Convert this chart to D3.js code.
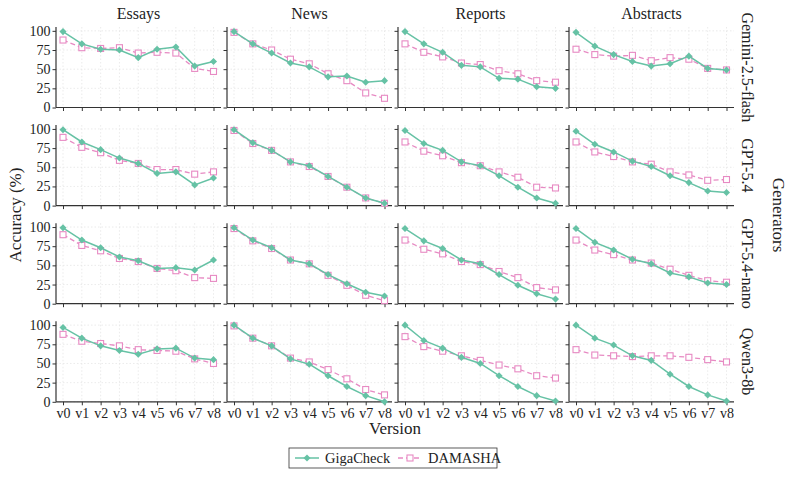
<!DOCTYPE html>
<html>
<head>
<meta charset="utf-8">
<script src="https://cdn.jsdelivr.net/npm/d3@7"></script>
<style>
  body { margin: 0; background: #fff; }
  svg text { fill: #222; font-family: "Liberation Serif", serif; }
</style>
</head>
<body>
<div id="chart"></div>
<script>
//Categories
let domains = ["Essays", "News", "Reports", "Abstracts"];
let generators = ["Gemini-2.5-flash", "GPT-5.4", "GPT-5.4-nano", "Qwen3-8b"];
let versions = ["v0", "v1", "v2", "v3", "v4", "v5", "v6", "v7", "v8"];
let yTicks = [0, 25, 50, 75, 100];

//GigaCheck accuracy, one array per domain (Essays, News, Reports, Abstracts)
let gigaGemini = [
    [99, 83, 76, 75, 65, 76, 79, 54, 60],
    [99, 83, 71, 58, 53, 40, 41, 33, 35],
    [99, 83, 72, 55, 53, 38, 37, 27, 25],
    [98, 80, 69, 60, 54, 57, 67, 51, 49]
];
let gigaGpt54 = [
    [99, 83, 73, 62, 55, 42, 44, 27, 36],
    [99, 82, 72, 57, 52, 38, 24, 10, 3],
    [98, 81, 72, 57, 52, 39, 24, 10, 3],
    [97, 80, 70, 58, 51, 39, 30, 19, 17]
];
let gigaGpt54nano = [
    [99, 83, 73, 61, 56, 46, 47, 44, 57],
    [99, 83, 73, 57, 52, 38, 26, 15, 10],
    [98, 82, 72, 57, 52, 38, 24, 13, 6],
    [98, 80, 70, 58, 52, 40, 35, 27, 25]
];
let gigaQwen = [
    [97, 83, 73, 67, 62, 69, 70, 57, 55],
    [100, 83, 73, 56, 49, 34, 20, 8, 0],
    [100, 80, 70, 58, 50, 34, 20, 8, 1],
    [100, 83, 74, 60, 54, 36, 20, 9, 1]
];

//DAMASHA accuracy
let damGemini = [
    [88, 78, 77, 78, 71, 72, 71, 51, 47],
    [98, 83, 75, 63, 57, 44, 35, 19, 12],
    [83, 72, 66, 58, 56, 48, 44, 35, 33],
    [76, 69, 67, 68, 61, 65, 63, 51, 49]
];
let damGpt54 = [
    [89, 76, 69, 59, 55, 47, 47, 41, 44],
    [98, 81, 72, 57, 51, 38, 24, 10, 3],
    [83, 71, 65, 56, 52, 44, 37, 24, 23],
    [83, 70, 64, 57, 54, 44, 40, 33, 34]
];
let damGpt54nano = [
    [90, 76, 69, 59, 55, 46, 43, 34, 33],
    [98, 82, 72, 57, 52, 37, 24, 11, 4],
    [83, 71, 65, 55, 51, 42, 34, 21, 18],
    [83, 70, 64, 57, 53, 45, 37, 30, 28]
];
let damQwen = [
    [88, 79, 76, 73, 68, 67, 66, 56, 50],
    [99, 83, 73, 57, 52, 42, 30, 16, 9],
    [85, 72, 66, 60, 54, 48, 43, 34, 31],
    [68, 61, 60, 59, 60, 60, 58, 55, 52]
];

let gigaCheck = [gigaGemini, gigaGpt54, gigaGpt54nano, gigaQwen];
let damasha = [damGemini, damGpt54, damGpt54nano, damQwen];

let green = "#66c2a5";
let pink = "#e78ac3";
let serif = "Liberation Serif";

//Panel grid
let svgWidth = 793;
let svgHeight = 477;
let panelLeft = 56;
let panelWidth = 165;
let colStep = 171;
let firstBottom = 107.5;
let rowStep = 98.1;
let panelHeight = 80.5;

let svg = d3.select("#chart")
    .append("svg")
    .attr("width", svgWidth)
    .attr("height", svgHeight);

let x = d3.scalePoint().domain(versions).range([7, panelWidth - 7.5]);
let y = d3.scaleLinear().domain([0, 105]).range([panelHeight, 0]);

let line = d3.line().x(function(d, i) { return x(versions[i]) }).y(function(d) { return y(d) });

generators.forEach(function(gen, r) {
    domains.forEach(function(dom, c) {
        let g = svg.append("g")
            .attr("transform", "translate(" + (panelLeft + c * colStep) + "," + (firstBottom + r * rowStep - panelHeight) + ")");

        //light dotted grid
        g.selectAll("line.hgrid").data(yTicks).enter().append("line")
            .attr("x1", 0).attr("x2", panelWidth)
            .attr("y1", function(d) { return y(d) }).attr("y2", function(d) { return y(d) })
            .style("stroke", "#e6e6e6").style("stroke-dasharray", "1.5,2").style("stroke-width", 0.8);
        g.selectAll("line.vgrid").data(versions).enter().append("line")
            .attr("x1", function(d) { return x(d) }).attr("x2", function(d) { return x(d) })
            .attr("y1", 0).attr("y2", panelHeight)
            .style("stroke", "#e6e6e6").style("stroke-dasharray", "1.5,2").style("stroke-width", 0.8);

        //axes, labels only on outer panels
        let xAxis = d3.axisBottom(x).tickSize(3.5).tickPadding(3);
        if (r < generators.length - 1) xAxis.tickFormat("");
        let yAxis = d3.axisLeft(y).tickValues(yTicks).tickSize(3.5).tickPadding(2);
        if (c > 0) yAxis.tickFormat("");

        let xg = g.append("g").attr("transform", "translate(0," + panelHeight + ")").call(xAxis);
        xg.select(".domain").attr("d", "M0,0H" + panelWidth);
        let yg = g.append("g").call(yAxis);
        yg.select(".domain").attr("d", "M0,0V" + panelHeight);
        [xg, yg].forEach(function(a) {
            a.attr("font-family", null);
            a.select(".domain").style("stroke", "#333").style("stroke-width", 1.2);
            a.selectAll(".tick line").style("stroke", "#333");
            a.selectAll(".tick text").style("font-size", "14px").style("font-family", serif).style("fill", "#222");
        });

        //DAMASHA dashed line with open squares
        let dam = damasha[r][c];
        g.append("path")
            .attr("d", line(dam))
            .style("fill", "none").style("stroke", pink).style("stroke-width", 1.3)
            .style("stroke-dasharray", "5,3");
        g.selectAll("rect.dam").data(dam).enter().append("rect")
            .attr("x", function(d, i) { return x(versions[i]) - 3 })
            .attr("y", function(d) { return y(d) - 3 })
            .attr("width", 6).attr("height", 6)
            .style("fill", "#fff").style("stroke", pink).style("stroke-width", 1.1);

        //GigaCheck solid line with diamonds
        let giga = gigaCheck[r][c];
        g.append("path")
            .attr("d", line(giga))
            .style("fill", "none").style("stroke", green).style("stroke-width", 1.5);
        g.selectAll("path.giga").data(giga).enter().append("path")
            .attr("d", d3.symbol().type(d3.symbolDiamond2).size(32))
            .attr("transform", function(d, i) { return "translate(" + x(versions[i]) + "," + y(d) + ")" })
            .style("fill", green);

        //column titles
        if (r === 0) {
            g.append("text")
                .attr("x", panelWidth / 2).attr("y", -8)
                .style("text-anchor", "middle").style("font-size", "16px").style("font-family", serif)
                .text(dom);
        }
    });

    //row label on the right
    let cy = firstBottom + r * rowStep - panelHeight / 2;
    svg.append("text")
        .attr("transform", "translate(742," + cy + ") rotate(90)")
        .style("text-anchor", "middle").style("font-size", "16px").style("font-family", serif)
        .text(gen);
});

//axis labels
svg.append("text")
    .attr("transform", "translate(21," + 215 + ") rotate(-90)")
    .style("text-anchor", "middle").style("font-size", "17px").style("font-family", serif)
    .text("Accuracy (%)");

svg.append("text")
    .attr("x", 395).attr("y", 434)
    .style("text-anchor", "middle").style("font-size", "17px").style("font-family", serif)
    .text("Version");

svg.append("text")
    .attr("transform", "translate(773," + 215 + ") rotate(90)")
    .style("text-anchor", "middle").style("font-size", "17px").style("font-family", serif)
    .text("Generators");

//legend
let legend = svg.append("g").attr("transform", "translate(289,448)");
legend.append("rect")
    .attr("x", 0).attr("y", 0).attr("width", 208).attr("height", 20)
    .style("fill", "#fff").style("stroke", "#333").style("stroke-width", 0.8);

legend.append("line").attr("x1", 6).attr("x2", 30).attr("y1", 10).attr("y2", 10)
    .style("stroke", green).style("stroke-width", 1.5);
legend.append("path").attr("d", d3.symbol().type(d3.symbolDiamond2).size(32))
    .attr("transform", "translate(18,10)").style("fill", green);
legend.append("text").attr("x", 36).attr("y", 14.5).style("font-size", "14.5px").style("font-family", serif).text("GigaCheck");

legend.append("line").attr("x1", 109).attr("x2", 133).attr("y1", 10).attr("y2", 10)
    .style("stroke", pink).style("stroke-width", 1.3).style("stroke-dasharray", "5,3");
legend.append("rect").attr("x", 118).attr("y", 7).attr("width", 6).attr("height", 6)
    .style("fill", "#fff").style("stroke", pink).style("stroke-width", 1.1);
legend.append("text").attr("x", 139).attr("y", 14.5).style("font-size", "14.5px").style("font-family", serif).text("DAMASHA");
</script>
</body>
</html>
